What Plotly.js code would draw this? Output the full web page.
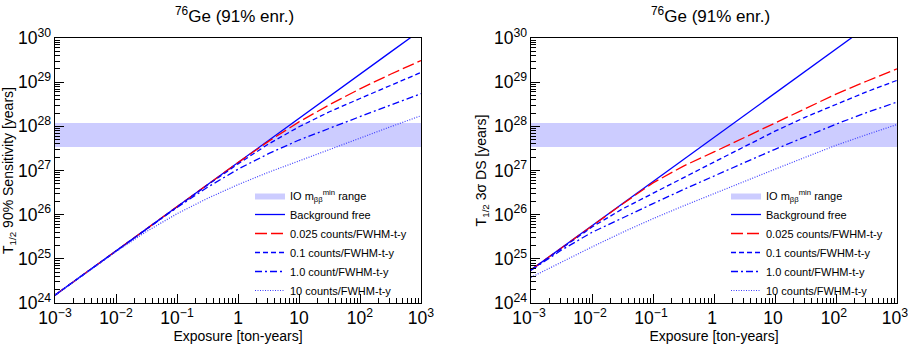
<!DOCTYPE html>
<html>
<head>
<meta charset="utf-8">
<script src="https://cdn.plot.ly/plotly-3.0.1.min.js"></script>
<style>
html,body{margin:0;padding:0;background:#ffffff;}
#chart{width:908px;height:345px;}
</style>
</head>
<body>
<div id="chart"></div>
<script>
// Exposure [ton-years] (half-decade grid)
const exposure = [1e-3, 3.16e-3, 1e-2, 3.16e-2, 0.1, 0.316, 1, 3.16, 10, 31.6, 100, 316, 1000];

// IO m_bb^min range band [years]
const bandLow = 3.42e27;
const bandHigh = 1.19e28;

// Left panel: T1/2 90% sensitivity [years]
const sens_bgFree = [1.51e24, 4.79e24, 1.51e25, 4.79e25, 1.51e26, 4.79e26, 1.51e27, 4.79e27, 1.51e28, 4.79e28, 1.51e29, 4.79e29, 1.51e30];
const sens_b0025  = [1.51e24, 4.79e24, 1.51e25, 4.79e25, 1.51e26, 4.79e26, 1.51e27, 4.57e27, 1.26e28, 3.09e28, 7.08e28, 1.51e29, 3.09e29];
const sens_b01    = [1.51e24, 4.79e24, 1.51e25, 4.79e25, 1.51e26, 4.68e26, 1.41e27, 3.98e27, 9.77e27, 2.14e28, 4.27e28, 8.32e28, 1.66e29];
const sens_b1     = [1.51e24, 4.79e24, 1.51e25, 4.68e25, 1.45e26, 4.17e26, 1.07e27, 2.40e27, 4.90e27, 9.12e27, 1.66e28, 3.02e28, 5.50e28];
const sens_b10    = [1.51e24, 4.68e24, 1.45e25, 4.17e25, 1.05e26, 2.34e26, 4.79e26, 9.12e26, 1.66e27, 3.02e27, 5.37e27, 9.77e27, 1.74e28];

// Right panel: T1/2 3 sigma discovery sensitivity [years]
const ds_bgFree = [5.62e24, 1.78e25, 5.62e25, 1.78e26, 5.62e26, 1.78e27, 5.62e27, 1.78e28, 5.62e28, 1.78e29, 5.62e29, 1.78e30, 5.62e30];
const ds_b0025  = [5.62e24, 1.78e25, 5.62e25, 1.74e26, 5.25e26, 1.26e27, 2.63e27, 5.62e27, 1.20e28, 2.57e28, 5.37e28, 1.05e29, 2.00e29];
const ds_b01    = [5.62e24, 1.74e25, 5.25e25, 1.35e26, 3.09e26, 6.92e26, 1.55e27, 3.47e27, 7.76e27, 1.62e28, 3.16e28, 6.03e28, 1.10e29];
const ds_b1     = [5.50e24, 1.58e25, 3.98e25, 8.51e25, 1.78e26, 3.72e26, 7.59e26, 1.51e27, 3.02e27, 5.89e27, 1.12e28, 2.04e28, 3.55e28];
const ds_b10    = [3.80e24, 8.51e24, 1.86e25, 3.98e25, 8.13e25, 1.58e26, 3.02e26, 5.75e26, 1.07e27, 2.00e27, 3.72e27, 6.46e27, 1.10e28];

// Legend labels
const seriesNames = [
  "Background free",
  "0.025 counts/FWHM-t-y",
  "0.1 counts/FWHM-t-y",
  "1.0 count/FWHM-t-y",
  "10 counts/FWHM-t-y"
];
const bandName = "IO m<sub>ββ</sub><sup>min</sup> range";
const panelTitle = "<sup>76</sup>Ge (91% enr.)";
const xTitle = "Exposure [ton-years]";
const yTitleLeft = "T<sub>1/2</sub> 90% Sensitivity [years]";
const yTitleRight = "T<sub>1/2</sub> 3σ DS [years]";

const FONT = "Liberation Sans, Arial, Helvetica, sans-serif";
const styles = [
  {color: "#0000ff", width: 1.3, dash: "solid"},
  {color: "#ff0000", width: 1.3, dash: "12px,4px"},
  {color: "#0000ff", width: 1.3, dash: "5px,3px"},
  {color: "#0000ff", width: 1.3, dash: "7px,3px,2px,3px"},
  {color: "#4040ff", width: 1.2, dash: "1px,1.5px"}
];

function panel(xa, ya, legendId, series) {
  const tr = [];
  const n = exposure.length;
  tr.push({
    type: "scatter", mode: "lines",
    x: [exposure[0], exposure[n-1], exposure[n-1], exposure[0], exposure[0]],
    y: [bandLow, bandLow, bandHigh, bandHigh, bandLow],
    fill: "toself", fillcolor: "rgba(0,0,255,0.2)",
    line: {width: 0, color: "rgba(0,0,255,0)"},
    name: bandName, xaxis: xa, yaxis: ya, legend: legendId,
    hoverinfo: "skip"
  });
  series.forEach((s, i) => {
    tr.push({
      type: "scatter", mode: "lines",
      x: exposure, y: s,
      line: {color: styles[i].color, width: styles[i].width, dash: styles[i].dash},
      name: seriesNames[i], xaxis: xa, yaxis: ya, legend: legendId,
      hoverinfo: "skip"
    });
  });
  return tr;
}

const data = [].concat(
  panel("x", "y", "legend", [sens_bgFree, sens_b0025, sens_b01, sens_b1, sens_b10]),
  panel("x2", "y2", "legend2", [ds_bgFree, ds_b0025, ds_b01, ds_b1, ds_b10])
);

function xaxis(domain, anchor, shift) {
  return {
    type: "log", range: [-3, 3], domain: domain, anchor: anchor,
    showline: true, mirror: true, linecolor: "#000", linewidth: 1,
    ticks: "inside", ticklen: 9, tickwidth: 1, tickcolor: "#000",
    dtick: 1, exponentformat: "power", showgrid: false, zeroline: false,
    ticklabeloverflow: "allow", ticklabelshift: shift,
    tickfont: {family: FONT, size: 14, color: "#000"},
    minor: {ticks: "inside", ticklen: 5, tickcolor: "#000", showgrid: false},
    title: {text: xTitle, font: {family: FONT, size: 14, color: "#000"}, standoff: 0}
  };
}
function yaxis(domain, anchor, title) {
  return {
    type: "log", range: [24, 30], domain: domain, anchor: anchor,
    showline: true, mirror: true, linecolor: "#000", linewidth: 1,
    ticks: "inside", ticklen: 9, tickwidth: 1, tickcolor: "#000",
    dtick: 1, exponentformat: "power", showgrid: false, zeroline: false,
    ticklabeloverflow: "allow",
    tickfont: {family: FONT, size: 14, color: "#000"},
    minor: {ticks: "inside", ticklen: 5, tickcolor: "#000", showgrid: false},
    title: {text: title, font: {family: FONT, size: 14, color: "#000"}, standoff: 4}
  };
}

const yDom = [1 - 303/345, 1 - 38/345];
const legendCommon = {
  bgcolor: "rgba(0,0,0,0)", borderwidth: 0,
  font: {family: FONT, size: 11, color: "#000"},
  xanchor: "left", yanchor: "top", y: 1 - 181/345,
  tracegroupgap: 0
};

const layout = {
  width: 908, height: 345,
  margin: {l: 0, r: 0, t: 0, b: 0},
  paper_bgcolor: "#fff", plot_bgcolor: "#fff",
  font: {family: FONT, color: "#000"},
  showlegend: true,
  xaxis: xaxis([55/908, 421/908], "y", 0),
  yaxis: yaxis(yDom, "x", yTitleLeft),
  xaxis2: xaxis([531/908, 897/908], "y2", -2),
  yaxis2: yaxis(yDom, "x2", yTitleRight),
  legend: Object.assign({x: 250/908}, legendCommon),
  legend2: Object.assign({x: 726/908}, legendCommon),
  annotations: [
    {text: panelTitle, xref: "paper", yref: "paper", x: 234/908, y: 1 - 15/345,
     xanchor: "center", yanchor: "middle", showarrow: false,
     font: {family: FONT, size: 17, color: "#000"}},
    {text: panelTitle, xref: "paper", yref: "paper", x: 710/908, y: 1 - 15/345,
     xanchor: "center", yanchor: "middle", showarrow: false,
     font: {family: FONT, size: 17, color: "#000"}}
  ]
};

Plotly.newPlot("chart", data, layout, {displayModeBar: false, staticPlot: true});
</script>
</body>
</html>
